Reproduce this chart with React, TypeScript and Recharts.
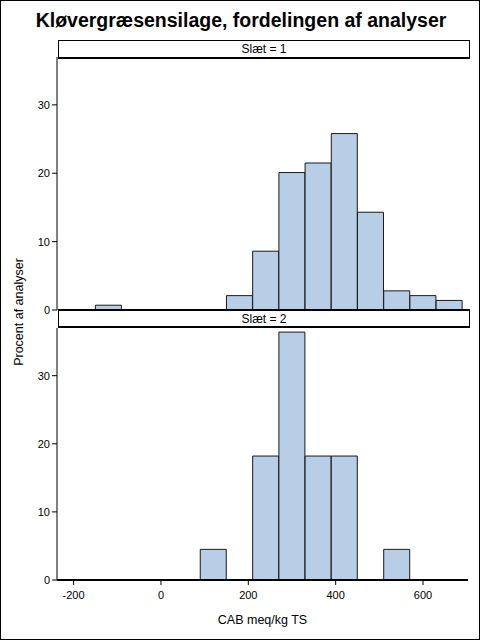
import { BarChart, Bar, XAxis, YAxis, Label } from 'recharts'

// bin midpoints (width 60), CAB meq/kg TS
const bins = [-180, -120, -60, 0, 60, 120, 180, 240, 300, 360, 420, 480, 540, 600, 660]
const slaet1 = [0, 0.7, 0, 0, 0, 0, 2.1, 8.6, 20.1, 21.5, 25.8, 14.3, 2.8, 2.1, 1.4]
const slaet2 = [0, 0, 0, 0, 0, 4.5, 0, 18.2, 36.4, 18.2, 18.2, 0, 4.5, 0, 0]
const xTicks = [-200, 0, 200, 400, 600]
const yTicks = [0, 10, 20, 30]

const data1 = bins.map((x, i) => ({ x, pct: slaet1[i] }))
const data2 = bins.map((x, i) => ({ x, pct: slaet2[i] }))

const font = '"Liberation Sans", Arial, sans-serif'
const tick = { fontSize: 11, fill: '#000', fontFamily: font }
const fill = '#B8CEE6'

const Strip = ({ top, label, thickTop }: { top: number; label: string; thickTop?: boolean }) => (
    <div style={{
        position: 'absolute', left: 57, top, width: 410, height: thickTop ? 15 : 16,
        borderTop: thickTop ? '2px solid #000' : '1px solid #000',
        borderLeft: '1px solid #000', borderRight: '1px solid #000',
        borderBottom: '2px solid #000', background: '#fff',
        fontFamily: font, fontSize: 12, lineHeight: thickTop ? '16px' : '17px', textAlign: 'center', color: '#000',
    }}>{label}</div>
)

export default function App() {
    return (
        <div style={{
            position: 'absolute', left: 0, top: 0, width: 480, height: 640,
            boxSizing: 'border-box', border: '1px solid #000', background: '#fff', overflow: 'hidden',
        }}>
            <div style={{
                position: 'absolute', left: 0, top: 8, width: 480, textAlign: 'center',
                fontFamily: font, fontWeight: 'bold', fontSize: 19.5, color: '#000',
            }}>
                Kløvergræsensilage, fordelingen af analyser
            </div>

            <div style={{ position: 'absolute', left: -1, top: 56 }}>
                <BarChart width={480} height={265} data={data1} barCategoryGap={0} barGap={0}
                    margin={{ top: 0, right: 12, bottom: 12, left: 0 }}>
                    <XAxis dataKey="x" type="number" domain={[-238, 703]} hide allowDataOverflow />
                    <YAxis domain={[0, 37]} ticks={yTicks} width={57} tick={tick} interval={0}
                        axisLine={{ stroke: '#000' }} tickLine={{ stroke: '#000' }} tickSize={5} />
                    <YAxis yAxisId="r" orientation="right" width={0} tick={false}
                        axisLine={{ stroke: '#000' }} tickLine={false} />
                    <Bar dataKey="pct" fill={fill} stroke="#1a1a1a" strokeWidth={1} isAnimationActive={false} />
                </BarChart>
            </div>

            <div style={{ position: 'absolute', left: -1, top: 327 }}>
                <BarChart width={480} height={304} data={data2} barCategoryGap={0} barGap={0}
                    margin={{ top: 0, right: 12, bottom: 0, left: 0 }}>
                    <XAxis dataKey="x" type="number" domain={[-238, 703]} ticks={xTicks} allowDataOverflow
                        height={52} tick={tick} tickSize={5} tickMargin={6} interval={0}
                        axisLine={{ stroke: '#000', strokeWidth: 2 }} tickLine={{ stroke: '#000' }}>
                        <Label value="CAB meq/kg TS" position="insideBottom" offset={8}
                            style={{ fontSize: 12.5, fill: '#000', fontFamily: font }} />
                    </XAxis>
                    <YAxis domain={[0, 37]} ticks={yTicks} width={57} tick={tick} interval={0}
                        axisLine={{ stroke: '#000' }} tickLine={{ stroke: '#000' }} tickSize={5} />
                    <YAxis yAxisId="r" orientation="right" width={0} tick={false}
                        axisLine={{ stroke: '#000' }} tickLine={false} />
                    <Bar dataKey="pct" fill={fill} stroke="#1a1a1a" strokeWidth={1} isAnimationActive={false} />
                </BarChart>
            </div>

            <Strip top={39} label="Slæt = 1" />
            <Strip top={308} label="Slæt = 2" thickTop />

            <div style={{
                position: 'absolute', left: 18, top: 311, width: 0, height: 0,
            }}>
                <div style={{
                    position: 'absolute', left: 0, top: 0, transform: 'translate(-50%, -50%) rotate(-90deg)',
                    whiteSpace: 'nowrap', fontFamily: font, fontSize: 12.5, color: '#000',
                }}>Procent af analyser</div>
            </div>
        </div>
    )
}
